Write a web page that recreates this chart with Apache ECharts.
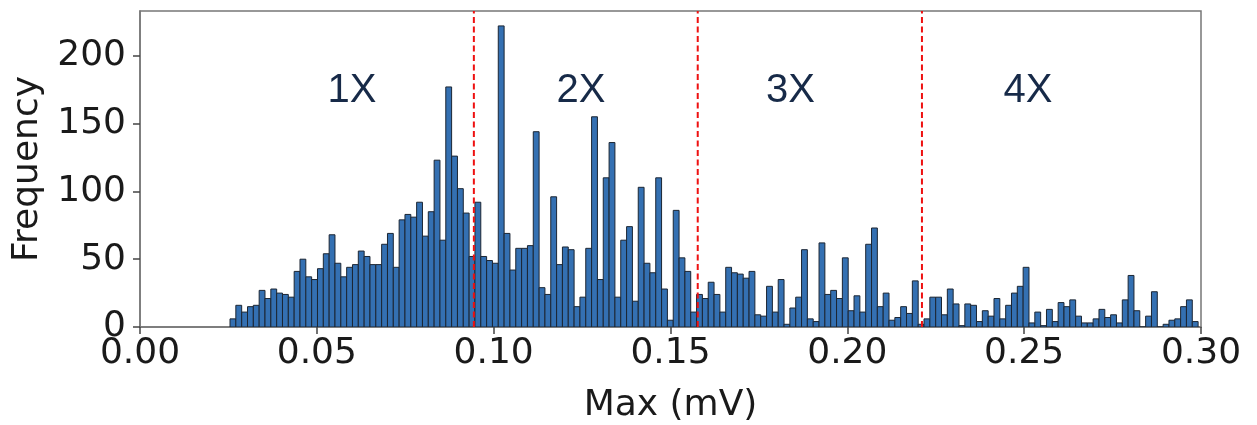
<!DOCTYPE html>
<html>
<head>
<meta charset="utf-8">
<title>Max (mV) histogram</title>
<script src="https://cdn.jsdelivr.net/npm/echarts@6/dist/echarts.min.js"></script>
<style>
  html, body { margin: 0; padding: 0; background: #fff; }
  #main { width: 1257px; height: 425px; }
</style>
</head>
<body>
<div id="main"></div>
<script>
// histogram bins: left edge of the first bin and bin width (mV)
const binStart = 0.02545;
const binWidth = 0.001649;

// counts per bin
const counts = [
  6, 16, 11, 15, 16, 27, 21, 28, 25, 24,
  22, 41, 50, 37, 35, 43, 54, 68, 47, 37,
  44, 46, 56, 52, 46, 46, 61, 69, 44, 79,
  83, 81, 92, 67, 85, 123, 64, 177, 126, 102,
  84, 52, 92, 52, 49, 47, 222, 69, 42, 58,
  58, 60, 144, 29, 24, 96, 46, 59, 57, 15,
  22, 58, 155, 35, 110, 136, 22, 64, 74, 19,
  103, 47, 40, 110, 28, 5, 86, 51, 41, 11,
  24, 21, 33, 24, 11, 44, 40, 39, 36, 41,
  9, 8, 30, 11, 35, 2, 14, 22, 57, 6,
  4, 62, 24, 27, 21, 51, 12, 23, 11, 61,
  73, 15, 25, 5, 7, 15, 10, 34, 2, 6,
  22, 22, 9, 28, 17, 1, 17, 16, 4, 12,
  8, 21, 6, 16, 25, 30, 44, 3, 11, 1,
  13, 4, 18, 15, 20, 8, 3, 3, 6, 13,
  7, 9, 3, 20, 38, 12, 0, 8, 26, 0,
  2, 5, 6, 15, 20, 4
];

// dashed boundaries between the 1X / 2X / 3X / 4X regions
const boundaries = [0.0944, 0.1577, 0.2211];
const regionLabels = ['1X', '2X', '3X', '4X'];
const regionLabelX = [0.0599, 0.1247, 0.1839, 0.2511];
const regionLabelY = 174;

const xTicks = [0, 0.05, 0.10, 0.15, 0.20, 0.25, 0.30];
const yTicks = [0, 50, 100, 150, 200];
const yMax = 233;

const barData = counts.map((c, i) => [binStart + i * binWidth, binStart + (i + 1) * binWidth, c]);
const labelData = regionLabels.map((t, i) => [regionLabelX[i], regionLabelY, t]);

const chart = echarts.init(document.getElementById('main'));

const axisFont = {
  fontFamily: 'DejaVu Sans',
  fontSize: 36,
  color: '#1a1a1a'
};

// one vertical dashed line per boundary
const boundarySeries = boundaries.map(b => ({
  type: 'line',
  silent: true,
  symbol: 'none',
  z: 3,
  lineStyle: { color: '#ee1111', width: 2, type: [6, 3.5] },
  data: [[b, 0], [b, yMax]]
}));

const option = {
  animation: false,
  grid: {
    left: 140,
    right: 56,
    top: 11,
    bottom: 98,
    outerBoundsMode: 'none',
    containLabel: false,
    show: true,
    borderColor: '#777',
    borderWidth: 1.5,
    backgroundColor: 'transparent'
  },
  xAxis: {
    type: 'value',
    min: 0,
    max: 0.30,
    name: 'Max (mV)',
    nameLocation: 'middle',
    nameGap: 61,
    nameTextStyle: axisFont,
    axisLine: { show: true, lineStyle: { color: '#777', width: 1.5 } },
    axisTick: { show: true, length: 7, lineStyle: { color: '#444', width: 1.5 }, customValues: xTicks },
    axisLabel: {
      ...axisFont,
      margin: 9,
      customValues: xTicks,
      formatter: v => v.toFixed(2)
    },
    splitLine: { show: false }
  },
  yAxis: {
    type: 'value',
    min: 0,
    max: yMax,
    name: 'Frequency',
    nameLocation: 'middle',
    nameGap: 94,
    nameTextStyle: axisFont,
    axisLine: { show: true, lineStyle: { color: '#777', width: 1.5 } },
    axisTick: { show: true, length: 7, lineStyle: { color: '#444', width: 1.5 }, customValues: yTicks },
    axisLabel: {
      ...axisFont,
      margin: 14,
      customValues: yTicks
    },
    splitLine: { show: false }
  },
  series: [
    {
      type: 'custom',
      clip: true,
      z: 2,
      data: barData,
      renderItem: (params, api) => {
        const p0 = api.coord([api.value(0), api.value(2)]);
        const p1 = api.coord([api.value(1), 0]);
        return {
          type: 'rect',
          shape: { x: p0[0], y: p0[1], width: p1[0] - p0[0], height: p1[1] - p0[1] },
          style: { fill: '#3470b2', stroke: '#1c2633', lineWidth: 1 }
        };
      }
    },
    ...boundarySeries,
    {
      type: 'scatter',
      symbolSize: 0,
      silent: true,
      z: 4,
      itemStyle: { opacity: 1 },
      data: labelData,
      label: {
        show: true,
        position: 'inside',
        formatter: p => p.value[2],
        fontFamily: 'Liberation Sans',
        fontSize: 40,
        color: '#172a48'
      }
    }
  ]
};

chart.setOption(option);
</script>
</body>
</html>
